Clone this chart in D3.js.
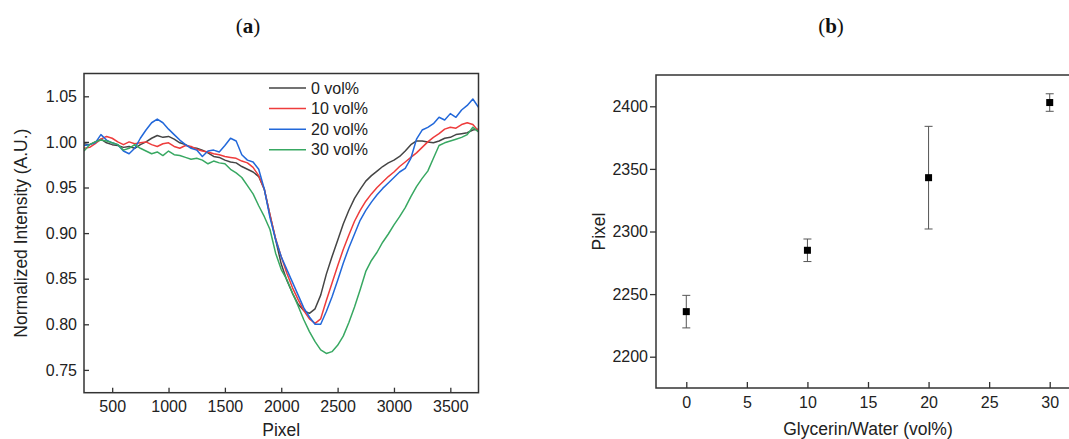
<!DOCTYPE html>
<html>
<head>
<meta charset="utf-8">
<script src="https://cdn.jsdelivr.net/npm/d3@7"></script>
<style>
  body { margin: 0; background: #fff; }
  svg { display: block; font-family: "Liberation Sans", Arial, sans-serif; }
  .tick text { font-size: 16px; fill: #222; }
  .tick line { stroke: #333; stroke-width: 1.3; }
  .title { font-family: "Liberation Serif", "DejaVu Serif", serif; font-size: 21px; fill: #111; }
  .axis-label { font-size: 17.5px; fill: #222; }
</style>
</head>
<body>
<div class="graphic"></div>
<script>
// panel (a): transmission dips
var pixels = [250,300,350,400,450,500,550,600,650,700,750,800,850,900,950,1000,1050,1100,1150,1200,
  1250,1300,1350,1400,1450,1500,1550,1600,1650,1700,1750,1800,1850,1900,1950,2000,2050,2100,2150,2200,
  2250,2300,2350,2400,2450,2500,2550,2600,2650,2700,2750,2800,2850,2900,2950,3000,3050,3100,3150,3200,
  3250,3300,3350,3400,3450,3500,3550,3600,3650,3700,3750];

var vol0 = [0.998,0.997,1.000,1.003,0.999,0.997,0.996,0.994,0.995,0.993,0.997,1.000,1.004,1.007,1.005,1.006,1.003,0.999,0.997,0.994,
  0.993,0.991,0.988,0.984,0.983,0.980,0.978,0.977,0.973,0.970,0.967,0.962,0.948,0.920,0.893,0.866,0.848,0.834,0.822,0.815,
  0.812,0.817,0.832,0.855,0.874,0.892,0.910,0.925,0.938,0.948,0.957,0.963,0.968,0.973,0.977,0.980,0.984,0.990,0.997,1.001,
  1.001,1.000,0.999,1.001,1.004,1.005,1.008,1.009,1.010,1.013,1.014];

var vol10 = [0.993,0.994,0.998,1.003,1.006,1.004,1.000,0.997,1.000,0.998,0.999,1.000,0.997,0.995,0.998,0.999,0.995,0.993,0.996,0.995,
  0.992,0.990,0.989,0.987,0.986,0.984,0.983,0.982,0.979,0.977,0.972,0.963,0.948,0.920,0.894,0.874,0.856,0.840,0.827,0.815,
  0.806,0.801,0.806,0.826,0.845,0.864,0.882,0.898,0.913,0.925,0.935,0.943,0.950,0.956,0.962,0.967,0.973,0.978,0.983,0.988,
  0.994,1.000,1.005,1.009,1.014,1.016,1.015,1.019,1.021,1.019,1.012];

var vol20 = [0.996,0.997,0.999,1.008,1.002,0.999,0.997,0.990,0.987,0.993,1.004,1.013,1.021,1.025,1.021,1.014,1.008,1.002,0.997,0.993,
  0.991,0.984,0.990,0.991,0.989,0.996,1.004,1.001,0.986,0.980,0.978,0.970,0.948,0.917,0.893,0.874,0.860,0.846,0.832,0.818,
  0.808,0.800,0.800,0.814,0.830,0.848,0.867,0.884,0.899,0.914,0.925,0.934,0.942,0.949,0.955,0.961,0.967,0.971,0.982,1.003,
  1.013,1.016,1.020,1.027,1.024,1.031,1.027,1.035,1.040,1.047,1.038];

var vol30 = [0.990,0.997,1.000,1.002,1.001,0.999,0.997,0.991,0.993,0.997,0.993,0.990,0.987,0.989,0.985,0.990,0.986,0.985,0.983,0.981,
  0.982,0.980,0.976,0.979,0.977,0.976,0.970,0.966,0.961,0.952,0.943,0.930,0.918,0.904,0.878,0.860,0.849,0.834,0.820,0.805,
  0.792,0.781,0.772,0.768,0.770,0.777,0.787,0.802,0.819,0.838,0.858,0.870,0.879,0.890,0.899,0.909,0.918,0.928,0.940,0.951,
  0.960,0.968,0.982,0.996,0.999,1.001,1.003,1.005,1.008,1.016,1.011];

var seriesNames = ["0 vol%", "10 vol%", "20 vol%", "30 vol%"];
var seriesColors = ["#454545", "#ee3c3c", "#2268da", "#38a862"];

var xTicksA = [500, 1000, 1500, 2000, 2500, 3000, 3500];
var yTicksA = [0.75, 0.80, 0.85, 0.90, 0.95, 1.00, 1.05];

// panel (b): dip position vs glycerin fraction
var glycerin = [0, 10, 20, 30];
var dipPixel = [2236, 2285, 2343, 2403];
var dipError = [13, 9, 41, 7];

var xTicksB = [0, 5, 10, 15, 20, 25, 30];
var yTicksB = [2200, 2250, 2300, 2350, 2400];

var W = 1069, H = 439;

var svg = d3.select(".graphic").append("svg")
  .attr("width", W).attr("height", H);

// ---------- panel (a) ----------
var a = { left: 84, right: 478.5, top: 73.5, bottom: 392.7 };

var xA = d3.scaleLinear().domain([250, 3750]).range([a.left, a.right]);
var yA = d3.scaleLinear().domain([0.725, 1.075]).range([a.bottom, a.top]);

svg.append("defs").append("clipPath").attr("id", "clipA")
  .append("rect")
  .attr("x", a.left).attr("y", a.top)
  .attr("width", a.right - a.left).attr("height", a.bottom - a.top);

var line = d3.line()
  .x(function(d) { return xA(d[0]); })
  .y(function(d) { return yA(d[1]); });

var curves = [vol0, vol10, vol20, vol30];

svg.append("g").attr("clip-path", "url(#clipA)")
  .selectAll("path")
  .data(curves)
  .enter()
  .append("path")
  .attr("d", function(vals) { return line(pixels.map(function(p, i) { return [p, vals[i]]; })); })
  .attr("fill", "none")
  .attr("stroke", function(d, i) { return seriesColors[i]; })
  .attr("stroke-width", 1.5)
  .attr("stroke-linejoin", "round");

var axA_x = svg.append("g")
  .attr("transform", "translate(0," + a.bottom + ")")
  .call(d3.axisBottom(xA).tickValues(xTicksA).tickFormat(d3.format("d")).tickSize(-5).tickPadding(8));
axA_x.select(".domain").remove();

var axA_y = svg.append("g")
  .attr("transform", "translate(" + a.left + ",0)")
  .call(d3.axisLeft(yA).tickValues(yTicksA).tickFormat(d3.format(".2f")).tickSize(-5).tickPadding(7));
axA_y.select(".domain").remove();

svg.append("rect")
  .attr("x", a.left).attr("y", a.top)
  .attr("width", a.right - a.left).attr("height", a.bottom - a.top)
  .attr("fill", "none").attr("stroke", "#333").attr("stroke-width", 1.5);

// legend
var legend = svg.append("g")
  .selectAll("g")
  .data(seriesNames)
  .enter()
  .append("g")
  .attr("transform", function(d, i) { return "translate(0," + (88 + i * 20.6) + ")"; });

legend.append("line")
  .attr("x1", 269).attr("x2", 306)
  .attr("stroke", function(d, i) { return seriesColors[i]; })
  .attr("stroke-width", 1.5);

legend.append("text")
  .attr("x", 311).attr("dy", "0.35em")
  .style("font-size", "16px").style("fill", "#222")
  .text(function(d) { return d; });

svg.append("text").attr("class", "axis-label")
  .attr("x", (a.left + a.right) / 2).attr("y", 436)
  .attr("text-anchor", "middle")
  .text("Pixel");

svg.append("text").attr("class", "axis-label")
  .attr("transform", "translate(27," + ((a.top + a.bottom) / 2) + ") rotate(-90)")
  .attr("text-anchor", "middle")
  .text("Normalized Intensity (A.U.)");

var tA = svg.append("text").attr("class", "title")
  .attr("x", 248).attr("y", 33).attr("text-anchor", "middle");
tA.append("tspan").text("(");
tA.append("tspan").style("font-weight", "bold").text("a");
tA.append("tspan").text(")");

// ---------- panel (b) ----------
var b = { left: 656, right: 1080, top: 75, bottom: 388 };

var xB = d3.scaleLinear().domain([-2.5, 32.5]).range([b.left, b.right]);
var yB = d3.scaleLinear().domain([2175, 2425]).range([b.bottom, b.top]);

var axB_x = svg.append("g")
  .attr("transform", "translate(0," + b.bottom + ")")
  .call(d3.axisBottom(xB).tickValues(xTicksB).tickFormat(d3.format("d")).tickSize(-6).tickPadding(9));
axB_x.select(".domain").remove();

var axB_y = svg.append("g")
  .attr("transform", "translate(" + b.left + ",0)")
  .call(d3.axisLeft(yB).tickValues(yTicksB).tickFormat(d3.format("d")).tickSize(6).tickPadding(2));
axB_y.select(".domain").remove();

svg.append("rect")
  .attr("x", b.left).attr("y", b.top)
  .attr("width", b.right - b.left).attr("height", b.bottom - b.top)
  .attr("fill", "none").attr("stroke", "#333").attr("stroke-width", 1.5);

var pts = svg.append("g")
  .selectAll("g")
  .data(glycerin)
  .enter()
  .append("g");

pts.append("line")
  .attr("x1", function(d) { return xB(d); }).attr("x2", function(d) { return xB(d); })
  .attr("y1", function(d, i) { return yB(dipPixel[i] - dipError[i]); })
  .attr("y2", function(d, i) { return yB(dipPixel[i] + dipError[i]); })
  .attr("stroke", "#555").attr("stroke-width", 1);

[-1, 1].forEach(function(s) {
  pts.append("line")
    .attr("x1", function(d) { return xB(d) - 4; }).attr("x2", function(d) { return xB(d) + 4; })
    .attr("y1", function(d, i) { return yB(dipPixel[i] + s * dipError[i]); })
    .attr("y2", function(d, i) { return yB(dipPixel[i] + s * dipError[i]); })
    .attr("stroke", "#555").attr("stroke-width", 1);
});

pts.append("rect")
  .attr("x", function(d) { return xB(d) - 3.5; })
  .attr("y", function(d, i) { return yB(dipPixel[i]) - 3.5; })
  .attr("width", 7).attr("height", 7)
  .attr("fill", "#000");

svg.append("text").attr("class", "axis-label")
  .attr("x", (b.left + b.right) / 2).attr("y", 435)
  .attr("text-anchor", "middle")
  .text("Glycerin/Water (vol%)");

svg.append("text").attr("class", "axis-label")
  .attr("transform", "translate(605," + ((b.top + b.bottom) / 2) + ") rotate(-90)")
  .attr("text-anchor", "middle")
  .text("Pixel");

var tB = svg.append("text").attr("class", "title")
  .attr("x", 831).attr("y", 33).attr("text-anchor", "middle");
tB.append("tspan").text("(");
tB.append("tspan").style("font-weight", "bold").text("b");
tB.append("tspan").text(")");
</script>
</body>
</html>
